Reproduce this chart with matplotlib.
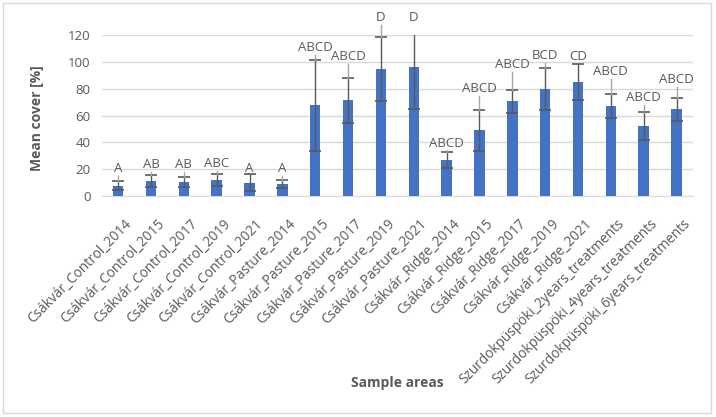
import matplotlib
matplotlib.use("Agg")
import matplotlib.pyplot as plt
from matplotlib.patches import Rectangle
from matplotlib.transforms import ScaledTranslation

categories = ["Csákvár_Control_2014", "Csákvár_Control_2015", "Csákvár_Control_2017",
              "Csákvár_Control_2019", "Csákvár_Control_2021", "Csákvár_Pasture_2014",
              "Csákvár_Pasture_2015", "Csákvár_Pasture_2017", "Csákvár_Pasture_2019",
              "Csákvár_Pasture_2021", "Csákvár_Ridge_2014", "Csákvár_Ridge_2015",
              "Csákvár_Ridge_2017", "Csákvár_Ridge_2019", "Csákvár_Ridge_2021",
              "Szurdokpüspöki_2years_treatments", "Szurdokpüspöki_4years_treatments",
              "Szurdokpüspöki_6years_treatments"]
means = [7.5, 11.0, 10.2, 11.7, 9.8, 8.7, 67.8, 71.3, 95.0, 96.2, 26.7, 49.1,
         70.8, 80.0, 85.3, 67.1, 52.1, 64.8]
errors = [3.5, 4.7, 4.0, 4.7, 6.5, 3.0, 34.0, 16.8, 24.0, 31.0, 6.0, 15.3,
          8.6, 15.7, 13.5, 9.0, 10.4, 8.6]
letters = ["A", "AB", "AB", "ABC", "A", "A", "ABCD", "ABCD", "D", "D", "ABCD",
           "ABCD", "ABCD", "BCD", "CD", "ABCD", "ABCD", "ABCD"]
label_y = [15.5, 18.5, 18.5, 19.0, 15.5, 15.5, 106.0, 99.0, 128.5, 128.5, 34.5,
           75.0, 93.0, 100.0, 99.0, 88.0, 68.5, 82.0]

FONT = ["Open Sans", "DejaVu Sans"]
TXT = "#595959"

fig = plt.figure(figsize=(7.16, 4.17), dpi=100)
W, H = 716, 417
ax = fig.add_axes([101.7 / W, 1 - 195.7 / H, (693 - 101.7) / W, (195.7 - 35.3) / H])

x = list(range(len(categories)))
ax.bar(x, means, width=0.32, color="#4472C4", zorder=3)
ax.errorbar(x, means, yerr=errors, fmt="none", ecolor="#595959", elinewidth=1.0,
            capsize=4, capthick=1.2, zorder=4)

for i in x:
    top = means[i] + errors[i]
    if label_y[i] - top > 1.5:
        ax.plot([i, i], [top, label_y[i] - 0.5], color="#a6a6a6", lw=1.0,
                zorder=4, clip_on=False)
    ax.text(i, label_y[i], letters[i], ha="center", va="bottom", fontsize=9.5,
            color=TXT, family=FONT, zorder=5, clip_on=False)

ax.set_xlim(-0.5, len(categories) - 0.5)
ax.set_ylim(0, 120)
ax.set_yticks(range(0, 121, 20))
ax.yaxis.grid(True, color="#d9d9d9", lw=1.0, zorder=0)
ax.set_axisbelow(True)
for s in ["top", "right", "left"]:
    ax.spines[s].set_visible(False)
ax.spines["bottom"].set_color("#d9d9d9")
ax.tick_params(axis="both", length=0, colors=TXT, labelsize=9.5)
ax.tick_params(axis="y", pad=8)
ax.set_xticks(x)
ax.set_xticklabels(categories, rotation=45, ha="right", rotation_mode="anchor",
                   family=FONT, fontsize=9.8, color=TXT)
ax.tick_params(axis="x", pad=15)
off = ScaledTranslation(6 / 100, 0, fig.dpi_scale_trans)
for lab in ax.get_xticklabels():
    lab.set_transform(lab.get_transform() + off)
for lab in ax.get_yticklabels():
    lab.set_family(FONT)

fig.text(37 / W, 1 - 118 / H, "Mean cover [%]", rotation=90, ha="center", va="center",
         fontsize=10, fontweight="bold", color=TXT, family=FONT)
fig.text(397 / W, 1 - 383 / H, "Sample areas", ha="center", va="center",
         fontsize=10, fontweight="bold", color=TXT, family=FONT)

fig.patches.append(Rectangle((3 / W, 1 - 413 / H), (711 - 3) / W, (413 - 3) / H,
                             transform=fig.transFigure, fill=False,
                             edgecolor="#d9d9d9", lw=1.0))

fig.savefig("out.png", dpi=100)
